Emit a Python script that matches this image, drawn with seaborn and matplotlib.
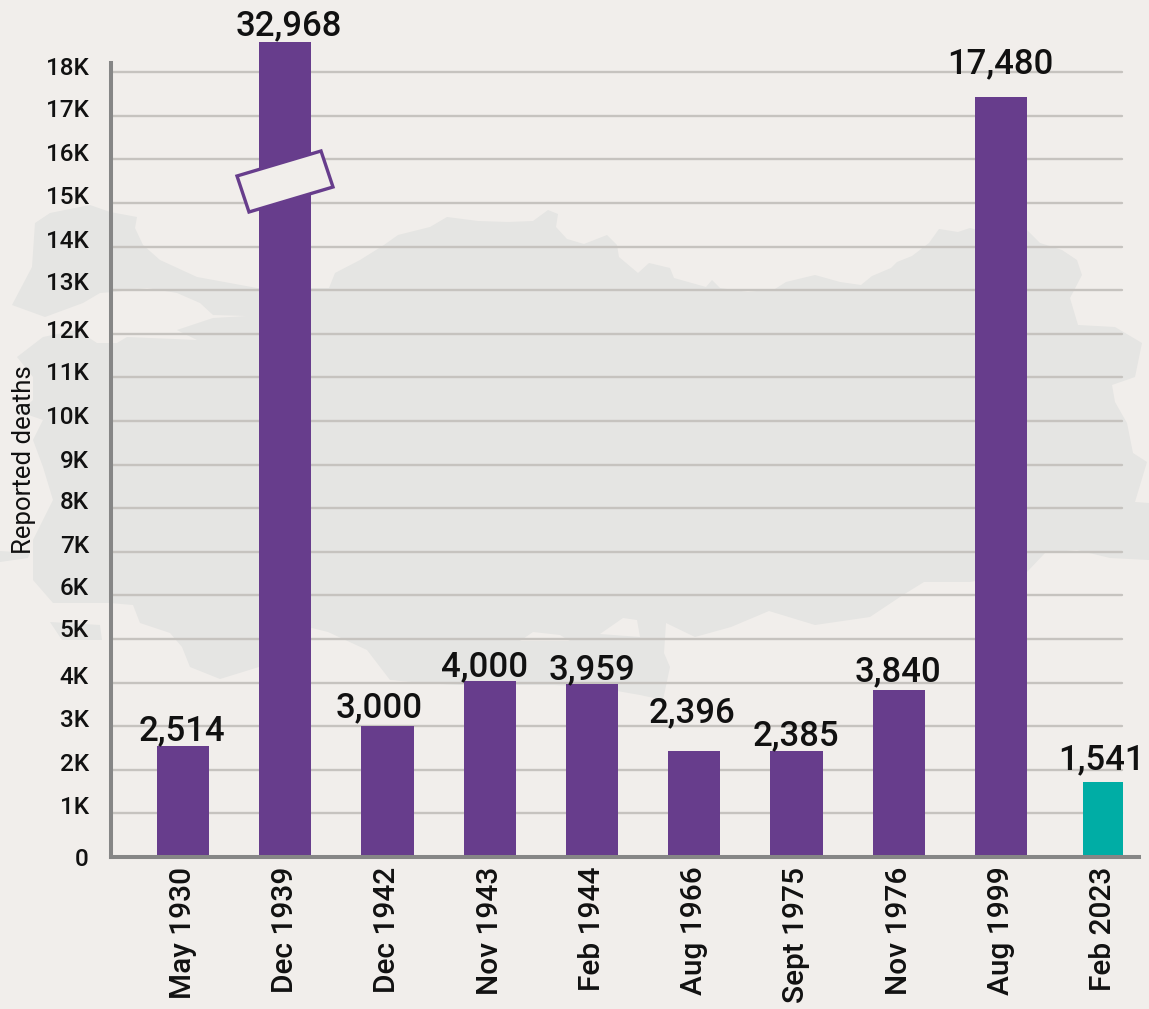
import matplotlib
matplotlib.use("Agg")
import matplotlib.pyplot as plt
from matplotlib.patches import Polygon
from matplotlib.transforms import Affine2D, ScaledTranslation
import pandas as pd
import seaborn as sns

W, H = 1149, 1009

events = ["May 1930", "Dec 1939", "Dec 1942", "Nov 1943", "Feb 1944",
          "Aug 1966", "Sept 1975", "Nov 1976", "Aug 1999", "Feb 2023"]
# Bars as drawn in the source (Dec 1939 has a broken axis; Feb 2023 is drawn taller than labelled)
drawn_heights = [2540, 18690, 3000, 4040, 3959, 2430, 2420, 3840, 17420, 1730]
value_labels = ["2,514", "32,968", "3,000", "4,000", "3,959",
                "2,396", "2,385", "3,840", "17,480", "1,541"]
groups = ["past"] * 9 + ["latest"]
ytick_values = list(range(0, 19000, 1000))
ytick_labels = ["0"] + [f"{k}K" for k in range(1, 19)]

# Small hand placement offsets (pixels) seen in the source artwork
label_dx = [-1, 4, -8, -5, 0, -2, -1, -1, -1, -2]
label_dy = [6, 7, 9, 5, 5, 29, 6, 8, 24, 12]
ytick_dy = [0, 8, 8, 8, 8, 11, 9, 7.5, 8, 6, 6, 6, 4.5, 9, 8, 7.7, 7, 7.6, 6]

PURPLE = "#673d8c"
TEAL = "#00ada5"
BG = "#f1eeeb"
MAP = "#e5e5e3"
GRID = "#c6c3bf"
AXIS = "#868686"
INK = "#111111"
FONT = ["Roboto", "DejaVu Sans"]

# Background silhouette of Turkey, in image pixels
map_outline = [
    (32,267),(12,305),(45,317),(83,303),(100,293),(113,292),(147,288),(177,293),(200,303),(213,315),
    (247,316),(213,318),(177,330),(197,340),(127,337),(117,343),(97,343),(77,330),(43,337),(17,357),
    (33,377),(33,400),(20,412),(43,420),(33,440),(43,467),(53,500),(33,540),(33,580),(53,603),
    (110,603),(133,605),(140,623),(170,633),(182,647),(190,667),(220,679),(259,667),(285,640),(312,628),
    (328,632),(367,650),(390,680),(423,683),(460,685),(500,685),(555,685),(600,688),(640,695),(663,700),
    (670,667),(664,653),(666,623),(695,637),(731,627),(769,611),(815,625),(870,617),(903,595),(924,582),
    (970,582),(1027,572),(1045,553),(1077,550),(1110,558),(1149,560),(1149,503),(1135,502),(1147,462),(1133,453),
    (1127,423),(1115,402),(1112,385),(1135,377),(1142,343),(1115,327),(1078,325),(1070,298),(1082,275),(1077,260),
    (1062,250),(1040,243),(1027,230),(1000,236),(970,228),(958,232),(939,229),(929,243),(912,256),(897,262),
    (891,268),(872,276),(861,285),(840,282),(815,275),(786,282),(775,289),(748,292),(720,288),(712,280),
    (706,287),(674,278),(670,268),(649,263),(638,273),(619,257),(617,245),(607,235),(584,244),(567,239),
    (556,227),(558,214),(548,210),(533,221),(508,222),(478,221),(447,217),(430,227),(398,235),(384,245),
    (360,260),(335,273),(329,288),(257,288),(197,277),(160,260),(143,245),(135,228),(137,217),(110,212),
    (90,205),(50,213),(35,223),
]
map_islands = [
    [(0,551),(30,553),(28,558),(0,562)],
    [(50,622),(100,625),(102,640),(62,640)],
]
map_inlets = [
    [(520,641),(533,632),(560,635),(570,641)],
    [(600,634),(623,618),(637,620),(640,637)],
]
break_mark = [(237,176),(321,151),(333,187),(249,212)]

sns.set_theme(style="white")
plt.rcParams["font.family"] = FONT

df = pd.DataFrame({"event": events, "drawn": drawn_heights, "group": groups})

fig = plt.figure(figsize=(W / 100, H / 100), dpi=100, facecolor=BG)
left, right, top, bottom = 111, 1139, 63, 857
ax = fig.add_axes([left / W, 1 - bottom / H, (right - left) / W, (bottom - top) / H])
ax.set_facecolor("none")

px = Affine2D().scale(1 / W, -1 / H).translate(0, 1) + fig.transFigure

for pts in [map_outline] + map_islands:
    fig.add_artist(Polygon(pts, closed=True, transform=px, facecolor=MAP, edgecolor="none", zorder=-2))
for pts in map_inlets:
    fig.add_artist(Polygon(pts, closed=True, transform=px, facecolor=BG, edgecolor="none", zorder=-1))

sns.barplot(data=df, x="event", y="drawn", hue="group", order=events,
            palette={"past": PURPLE, "latest": TEAL}, dodge=False, width=0.51,
            legend=False, saturation=1, ax=ax, zorder=3)

ax.set_xlim(-0.704, 9.35)
ax.set_ylim(0, 18210)

bars = [p for c in ax.containers for p in c if p.get_height() > 0]
bars.sort(key=lambda p: p.get_x())
for p in bars:
    p.set_clip_on(False)
    p.set_linewidth(0)
# the Feb 2023 bar is narrower in the source
last = bars[-1]
centre = last.get_x() + last.get_width() / 2
last.set_width(0.39)
last.set_x(centre - 0.195)

grid_end = (1122 - left) / (right - left)
for v in ytick_values[1:]:
    ax.axhline(v, xmin=0, xmax=grid_end, color=GRID, lw=1.7, zorder=1)

for p, text, dx, dy in zip(bars, value_labels, label_dx, label_dy):
    ax.annotate(text, xy=(p.get_x() + p.get_width() / 2, p.get_height()),
                xytext=(dx * 0.72, dy * 0.72), textcoords="offset points",
                ha="center", va="baseline", fontsize=25, fontweight="medium", color=INK,
                annotation_clip=False, zorder=6)

ax.set_yticks(ytick_values)
ax.set_yticklabels(ytick_labels, fontsize=17.5, fontweight="medium", color=INK)
ax.tick_params(axis="y", length=0, pad=16)
for lab, dy in zip(ax.get_yticklabels(), ytick_dy):
    lab.set_transform(lab.get_transform() + ScaledTranslation(0, dy / 100, fig.dpi_scale_trans))

ax.set_xticks(range(len(events)))
ax.set_xticklabels(events, rotation=90, fontsize=21.5, fontweight="medium", color=INK, ha="center", va="top")
ax.tick_params(axis="x", length=0, pad=7)
ax.set_xlabel("")

ax.set_ylabel("Reported deaths", fontsize=18.5, color=INK, va="center")
ax.yaxis.set_label_coords(24 / W, 1 - 460 / H, transform=fig.transFigure)

for s in ("top", "right"):
    ax.spines[s].set_visible(False)
for s in ("left", "bottom"):
    ax.spines[s].set_color(AXIS)
    ax.spines[s].set_linewidth(2.9)
    ax.spines[s].set_zorder(4)

ax.add_patch(Polygon(break_mark, closed=True, transform=px, facecolor=BG,
                     edgecolor=PURPLE, lw=2.4, zorder=5, clip_on=False))

fig.savefig("out.png", dpi=100, facecolor=BG)
